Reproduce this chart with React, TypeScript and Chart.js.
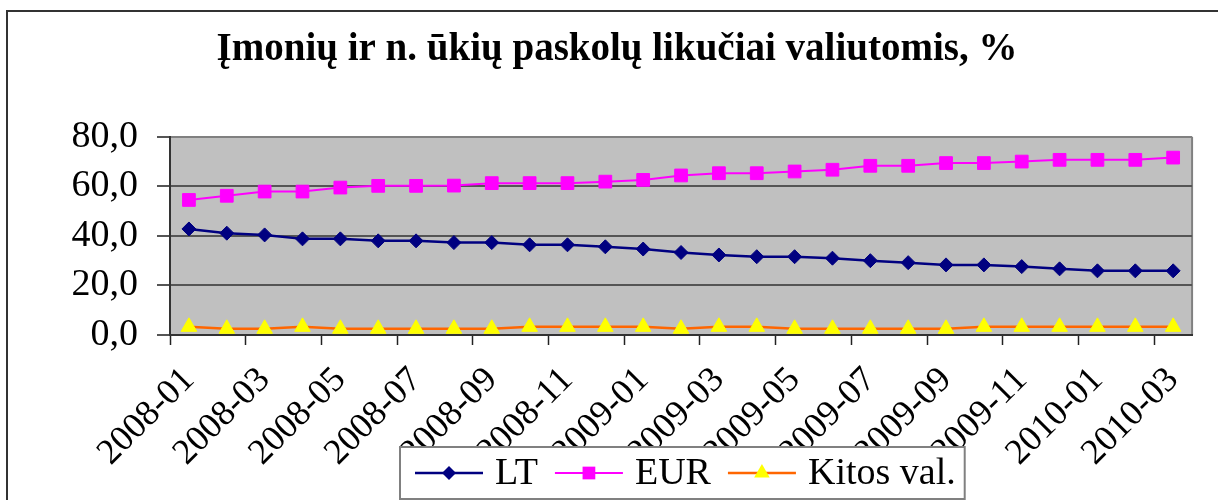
import React, { useEffect, useRef } from 'react';
import { Chart, registerables } from 'chart.js';

Chart.register(...registerables);

const chartTitle = 'Įmonių ir n. ūkių paskolų likučiai valiutomis, %';

const months = [
  '2008-01', '2008-02', '2008-03', '2008-04', '2008-05', '2008-06', '2008-07', '2008-08', '2008-09',
  '2008-10', '2008-11', '2008-12', '2009-01', '2009-02', '2009-03', '2009-04', '2009-05', '2009-06',
  '2009-07', '2009-08', '2009-09', '2009-10', '2009-11', '2009-12', '2010-01', '2010-02', '2010-03',
];

const ltValues = [
  42.8, 41.1, 40.4, 38.8, 38.8, 38.0, 38.0, 37.3, 37.3, 36.4, 36.4, 35.6, 34.7, 33.3,
  32.3, 31.6, 31.6, 31.0, 30.0, 29.2, 28.3, 28.3, 27.6, 26.7, 25.9, 25.9, 25.9,
];

const eurValues = [
  54.5, 56.2, 57.9, 57.9, 59.5, 60.2, 60.2, 60.3, 61.3, 61.3, 61.3, 61.9, 62.6, 64.4,
  65.3, 65.3, 66.0, 66.7, 68.3, 68.3, 69.4, 69.4, 70.0, 70.7, 70.7, 70.7, 71.6,
];

const otherValues = [
  3.3, 2.5, 2.5, 3.3, 2.5, 2.5, 2.5, 2.5, 2.5, 3.3, 3.3, 3.3, 3.3, 2.5,
  3.3, 3.3, 2.5, 2.5, 2.5, 2.5, 2.5, 3.3, 3.3, 3.3, 3.3, 3.3, 3.3,
];

const seriesNames = ['LT', 'EUR', 'Kitos val.'];
const yMin = 0;
const yMax = 80;
const yStep = 20;

const SERIF = '"Liberation Serif", "Times New Roman", serif';

const framePlugin = {
  id: 'frame',
  beforeDraw(chart: any) {
    const { ctx, chartArea, width, height } = chart;
    ctx.save();
    ctx.fillStyle = '#ffffff';
    ctx.fillRect(0, 0, width, height);
    // outer chart border (top and left visible)
    ctx.fillStyle = '#333333';
    ctx.fillRect(6, 10, width - 6, 2);
    ctx.fillRect(6, 10, 2, height - 10);
    // plot area
    ctx.fillStyle = '#C0C0C0';
    ctx.fillRect(chartArea.left, chartArea.top, chartArea.right - chartArea.left, chartArea.bottom - chartArea.top);
    ctx.strokeStyle = '#808080';
    ctx.lineWidth = 2;
    ctx.beginPath();
    ctx.moveTo(chartArea.right, chartArea.top);
    ctx.lineTo(chartArea.right, chartArea.bottom);
    ctx.stroke();
    ctx.restore();
  },
};

function drawMarker(ctx: CanvasRenderingContext2D, style: string, x: number, y: number, r: number, fill: string) {
  ctx.fillStyle = fill;
  ctx.beginPath();
  if (style === 'rectRot') {
    ctx.moveTo(x, y - r);
    ctx.lineTo(x + r, y);
    ctx.lineTo(x, y + r);
    ctx.lineTo(x - r, y);
  } else if (style === 'rect') {
    const s = r * Math.SQRT1_2;
    ctx.rect(x - s, y - s, 2 * s, 2 * s);
  } else {
    ctx.moveTo(x, y - r);
    ctx.lineTo(x + r * Math.sin(Math.PI * 2 / 3), y + r / 2);
    ctx.lineTo(x - r * Math.sin(Math.PI * 2 / 3), y + r / 2);
  }
  ctx.closePath();
  ctx.fill();
}

const boxLegendPlugin = {
  id: 'boxLegend',
  afterDraw(chart: any) {
    const ctx: CanvasRenderingContext2D = chart.ctx;
    ctx.save();
    ctx.font = `38px ${SERIF}`;
    const left = 400;
    const top = 447;
    const h = 52;
    const padL = 15;
    const padR = 9;
    const lineLen = 68;
    const gapText = 12;
    const gapItem = 17;
    const dss = chart.data.datasets;
    const widths = dss.map((d: any) => ctx.measureText(d.label).width);
    let total = padL + padR + gapItem * (dss.length - 1);
    widths.forEach((w: number) => { total += lineLen + gapText + w; });
    ctx.fillStyle = '#ffffff';
    ctx.fillRect(left, top, total, h);
    ctx.strokeStyle = '#808080';
    ctx.lineWidth = 2;
    ctx.strokeRect(left, top, total, h);
    const cy = top + 26;
    let x = left + padL;
    dss.forEach((d: any, i: number) => {
      ctx.strokeStyle = d.borderColor;
      ctx.lineWidth = d.borderWidth;
      ctx.beginPath();
      ctx.moveTo(x, cy);
      ctx.lineTo(x + lineLen, cy);
      ctx.stroke();
      drawMarker(ctx, d.pointStyle, x + lineLen / 2, cy, d.pointRadius, d.pointBackgroundColor);
      ctx.fillStyle = '#000000';
      ctx.textBaseline = 'alphabetic';
      ctx.textAlign = 'left';
      ctx.fillText(d.label, x + lineLen + gapText, cy + 11);
      x += lineLen + gapText + widths[i] + gapItem;
    });
    ctx.restore();
  },
};

export default function App() {
  const ref = useRef<HTMLCanvasElement>(null);
  useEffect(() => {
    document.body.style.margin = '0';
    const chart = new Chart(ref.current as HTMLCanvasElement, {
      type: 'line',
      data: {
        labels: months,
        datasets: [
          {
            label: seriesNames[0], data: ltValues, borderColor: '#000080', backgroundColor: '#000080',
            pointBackgroundColor: '#000080', pointBorderColor: '#000080', pointStyle: 'rectRot',
            pointRadius: 7, pointBorderWidth: 1, borderWidth: 2.5, tension: 0,
          },
          {
            label: seriesNames[1], data: eurValues, borderColor: '#FF00FF', backgroundColor: '#FF00FF',
            pointBackgroundColor: '#FF00FF', pointBorderColor: '#FF00FF', pointStyle: 'rect',
            pointRadius: 9, pointBorderWidth: 1, borderWidth: 2, tension: 0,
          },
          {
            label: seriesNames[2], data: otherValues, borderColor: '#FF6600', backgroundColor: '#FFFF00',
            pointBackgroundColor: '#FFFF00', pointBorderColor: '#FFFF00', pointStyle: 'triangle',
            pointRadius: 9, pointBorderWidth: 1, borderWidth: 2.5, tension: 0,
          },
        ],
      },
      options: {
        responsive: true,
        maintainAspectRatio: false,
        animation: false,
        events: [],
        layout: { padding: { left: 32, right: 16, top: 0, bottom: 0 } },
        plugins: {
          legend: { display: false },
          tooltip: { enabled: false },
          title: {
            display: true,
            text: chartTitle,
            color: '#000000',
            font: { family: SERIF, size: 39, weight: 'bold' },
            padding: { top: 27, bottom: 63 },
          },
        },
        scales: {
          x: {
            offset: true,
            grid: {
              offset: true,
              drawOnChartArea: false,
              drawTicks: true,
              tickLength: 10,
              tickWidth: 1.5,
              tickColor: (c: any) => (c.index !== undefined && c.index % 2 === 0 ? '#222222' : 'rgba(0,0,0,0)'),
            },
            border: { display: true, color: '#333333', width: 2 },
            ticks: {
              autoSkip: false,
              maxRotation: 45,
              minRotation: 45,
              padding: 14,
              color: '#000000',
              font: { family: SERIF, size: 36 },
              callback: (_v: any, i: number) => (i % 2 === 0 ? months[i] : ''),
            },
            afterFit: (s: any) => { s.height = 165; },
          },
          y: {
            min: yMin,
            max: yMax,
            grid: {
              color: (c: any) => (c.tick && c.tick.value === yMax ? '#808080' : '#555555'),
              lineWidth: 2,
              drawTicks: true,
              tickLength: 13,
              tickColor: '#555555',
              tickWidth: 2,
            },
            border: { display: true, color: '#333333', width: 2 },
            ticks: {
              stepSize: yStep,
              padding: 19,
              color: '#000000',
              font: { family: SERIF, size: 38 },
              callback: (v: any) => Number(v).toFixed(1).replace('.', ','),
            },
            afterFit: (s: any) => { s.width = 138; },
          },
        },
      },
      plugins: [framePlugin, boxLegendPlugin],
    } as any);
    return () => chart.destroy();
  }, []);
  return (
    <div style={{ position: 'relative', width: 1218, height: 500 }}>
      <canvas ref={ref} />
    </div>
  );
}
